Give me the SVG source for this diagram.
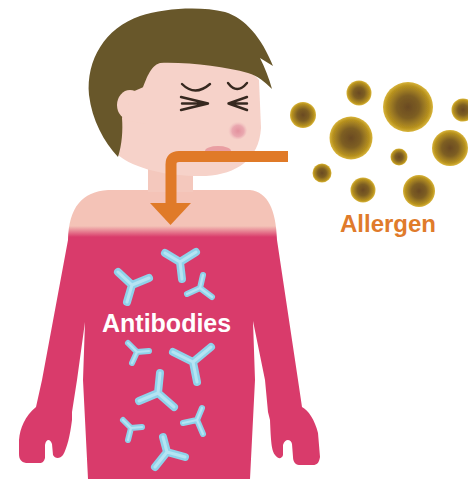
<svg xmlns="http://www.w3.org/2000/svg" width="468" height="479" viewBox="0 0 468 479">
  <defs>
    <style>
      .skin { fill: #f6d2c9; }
      .hair { fill: #68572a; }
      .eye { fill: none; stroke: #36281f; stroke-width: 2.4; stroke-linecap: round; stroke-linejoin: round; }
      .ab-base { fill: none; stroke: #8fd2ea; stroke-linecap: round; stroke-linejoin: round; }
      .ab-hi { fill: none; stroke: #c6ecf7; stroke-linecap: round; stroke-linejoin: round; opacity: 0.7; }
      .label { font-family: "Liberation Sans", Arial, Helvetica, sans-serif; font-weight: bold; }
      .flow { fill: none; stroke: #e07a28; stroke-width: 11; stroke-linejoin: round; }
    </style>
    <linearGradient id="bodyFill" gradientUnits="userSpaceOnUse" x1="0" y1="226" x2="0" y2="237">
      <stop offset="0" stop-color="#f4c3b7"/>
      <stop offset="1" stop-color="#d93b6b"/>
    </linearGradient>
    <radialGradient id="particle" cx="0.5" cy="0.5" r="0.5">
      <stop offset="0" stop-color="#6a4a24"/>
      <stop offset="0.45" stop-color="#7d5e22"/>
      <stop offset="0.85" stop-color="#b8921f"/>
      <stop offset="1" stop-color="#d9b53a"/>
    </radialGradient>
    <radialGradient id="noseFill" cx="0.55" cy="0.55" r="0.5">
      <stop offset="0" stop-color="#e3919e"/>
      <stop offset="0.6" stop-color="#eaa9b0"/>
      <stop offset="1" stop-color="#f2c4c3" stop-opacity="0"/>
    </radialGradient>
    <filter id="soft" x="-20%" y="-20%" width="140%" height="140%">
      <feGaussianBlur stdDeviation="0.7"/>
    </filter>
    <!-- antibody Y shapes: larger ones and smaller ones -->
    <g id="ab-large">
      <path d="M180,262 L165,253 M180,262 L196,252 M180,262 L182,279"/>
      <path d="M132,285 L118,272 M132,285 L149,278 M132,285 L127,302"/>
      <path d="M193,362 L173,352 M193,362 L211,347 M193,362 L197,382"/>
      <path d="M158,393 L160,373 M158,393 L139,401 M158,393 L174,407"/>
      <path d="M167,452 L163,437 M167,452 L185,457 M167,452 L155,467"/>
    </g>
    <g id="ab-small">
      <path d="M200,288 L203,275 M200,288 L187,294 M200,288 L212,297"/>
      <path d="M137,352 L128,343 M137,352 L149,351 M137,352 L132,363"/>
      <path d="M131,428 L123,420 M131,428 L142,427 M131,428 L128,440"/>
      <path d="M197,420 L202,408 M197,420 L183,423 M197,420 L203,434"/>
    </g>
  </defs>

  <rect width="468" height="479" fill="#ffffff"/>

  <!-- body: shoulders, shirt, arms and hands -->
  <g id="body">
    <path fill="url(#bodyFill)" d="M68,240 C69,207 82,192 108,190 L250,190 C268,192 276,210 277,240
      L298,380 L302,407 C308,410 315,420 318,433 L320,457 C319,463 317,465 313,465 L299,465
      C295,465 293,461 293,457 L292,444 C291,439 285,438 283,445 L283,455 C282,459 278,459 276,456
      C272,452 271,446 270,420 L268,412 L265,380 L253,321 L255,380 L250,479 L88,479 L83,380 L85,322
      L77,380 L72,412 L72,420 C70,436 67,448 63,455 C60,459 55,459 53,455 L52,444 C50,438 46,439 45,445
      L45,458 C44,462 42,463 40,463 L26,463 C21,462 19,459 19,454 L19,440 C20,428 25,416 36,407 L42,380 Z"/>
  </g>

  <!-- neck -->
  <g id="neck">
    <path fill="#f4c8bd" d="M148,160 L193,160 L193,192 L148,192 Z"/>
  </g>

  <!-- head -->
  <g id="head">
    <path class="skin" d="M120,78 C150,52 238,54 259,80 L261,128 C259,160 236,174 206,176 C172,177 136,170 118,155 Z"/>
    <path class="hair" d="M118,157 C104,142 92,120 89,95 C86,60 105,28 140,16 C165,8 200,6 225,12
      C245,18 262,38 273,66 L260,58 C265,68 269,78 272,89 C265,82 258,76 248,73
      C225,67 190,62 160,63 C150,66 146,80 142,90 L128,95 L122,118 C123,130 122,145 118,157 Z"/>
    <ellipse class="skin" cx="130" cy="105" rx="13" ry="15"/>
    <path class="skin" d="M132,92 L146,86 L146,124 L124,120 Z"/>
    <!-- closed eyes -->
    <path class="eye" d="M182,84 Q195,97 210,84"/>
    <path class="eye" d="M228,83 Q237,95 247,83"/>
    <path class="eye" d="M181,97 L208,103.5 L181,110 M182,103.5 L208,103.5"/>
    <path class="eye" d="M247,97 L228.5,103.5 L247,110 M247,103.5 L228.5,103.5"/>
    <!-- nose and lips -->
    <ellipse cx="237" cy="130" rx="10" ry="9.5" fill="url(#noseFill)"/>
    <ellipse cx="218" cy="151" rx="13" ry="5" fill="#e99ea2"/>
  </g>

  <!-- antibodies -->
  <g id="antibodies">
    <use href="#ab-large" class="ab-base" stroke-width="8"/>
    <use href="#ab-small" class="ab-base" stroke-width="6"/>
    <use href="#ab-large" class="ab-hi" stroke-width="3"/>
    <use href="#ab-small" class="ab-hi" stroke-width="2.2"/>
  </g>

  <!-- allergen particles -->
  <g id="allergen" fill="url(#particle)" filter="url(#soft)">
    <circle cx="303" cy="115" r="13"/>
    <circle cx="359" cy="93" r="12.5"/>
    <circle cx="408" cy="107" r="25"/>
    <circle cx="463" cy="110" r="11.5"/>
    <circle cx="351" cy="138" r="21.5"/>
    <circle cx="399" cy="157" r="8.5"/>
    <circle cx="450" cy="148" r="18"/>
    <circle cx="322" cy="173" r="9.5"/>
    <circle cx="363" cy="190" r="12.5"/>
    <circle cx="419" cy="191" r="16"/>
  </g>

  <!-- inhalation path -->
  <g id="connectors">
    <path class="flow" d="M288,156.5 L179,156.5 Q171,156.5 171,164.5 L171,205"/>
    <polygon fill="#e07a28" points="150,203 191,203 170.5,225"/>
  </g>

  <!-- labels -->
  <g id="labels">
    <text class="label" x="102" y="332" font-size="25" fill="#ffffff">Antibodies</text>
    <text class="label" x="340" y="232" font-size="24" fill="#e07b2b">Allergen</text>
  </g>
</svg>
